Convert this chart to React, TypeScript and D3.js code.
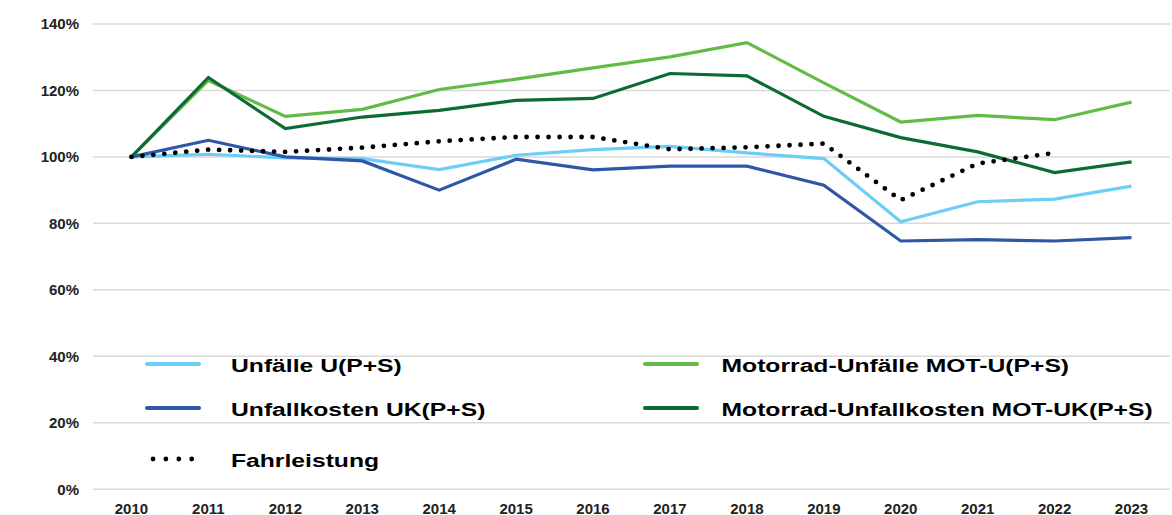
import React from "react";
import * as d3 from "d3";

const years = ["2010","2011","2012","2013","2014","2015","2016","2017","2018","2019","2020","2021","2022","2023"];
const yTicks = [0, 20, 40, 60, 80, 100, 120, 140];

const unfaelle = [100, 100.8, 99.7, 99.5, 96.2, 100.5, 102.2, 103.2, 101.2, 99.5, 80.5, 86.5, 87.3, 91.2];
const unfallkosten = [100, 105, 100, 98.8, 90, 99.3, 96.1, 97.2, 97.2, 91.5, 74.7, 75.1, 74.7, 75.7];
const motUnfaelle = [100, 123, 112.2, 114.3, 120.3, 123.4, 126.8, 130.1, 134.4, 122.3, 110.5, 112.5, 111.2, 116.5];
const motUnfallkosten = [100, 123.9, 108.5, 112, 114, 117, 117.6, 125.1, 124.4, 112.2, 105.8, 101.5, 95.3, 98.5];
const fahrleistung: (number | null)[] = [100, 102.2, 101.5, 102.8, 104.7, 106, 106, 102.3, 102.9, 104, 87, 98, 101.2, null];

const seriesNames = [
  "Unfälle U(P+S)",
  "Unfallkosten UK(P+S)",
  "Fahrleistung",
  "Motorrad-Unfälle MOT-U(P+S)",
  "Motorrad-Unfallkosten MOT-UK(P+S)",
];

const C_LB = "#6ccdf5";
const C_DB = "#2f57a8";
const C_LG = "#62bb46";
const C_DG = "#0c6b33";

export default function App() {
  const W = 1172, H = 515;
  const x = d3.scaleBand<string>().domain(years).range([93, 1170]).padding(0);
  const cx = (yr: string) => (x(yr) as number) + x.bandwidth() / 2;
  const y = d3.scaleLinear().domain([0, 140]).range([489.2, 24]);

  const lineGen = d3
    .line<number | null>()
    .defined((d) => d !== null)
    .x((_, i) => cx(years[i]))
    .y((d) => y(d as number));

  const solid = [
    { data: unfaelle, color: C_LB },
    { data: unfallkosten, color: C_DB },
    { data: motUnfaelle, color: C_LG },
    { data: motUnfallkosten, color: C_DG },
  ];

  const font = "'Liberation Sans', Arial, sans-serif";

  const legendLeft = [
    { name: seriesNames[0], color: C_LB, dotted: false, yy: 364 },
    { name: seriesNames[1], color: C_DB, dotted: false, yy: 408 },
    { name: seriesNames[2], color: "#000", dotted: true, yy: 459 },
  ];
  const legendRight = [
    { name: seriesNames[3], color: C_LG, dotted: false, yy: 364 },
    { name: seriesNames[4], color: C_DG, dotted: false, yy: 408 },
  ];

  const legendItem = (it: any, sx: number, tx: number, key: string) => (
    <g key={key}>
      {it.dotted ? (
        <line x1={sx + 6} x2={sx + 46} y1={it.yy} y2={it.yy} stroke="#000" strokeWidth={4.8}
          strokeLinecap="round" strokeDasharray="0 12.9" />
      ) : (
        <line x1={sx} x2={sx + 52} y1={it.yy} y2={it.yy} stroke={it.color} strokeWidth={4}
          strokeLinecap="round" />
      )}
      <text transform={`translate(${tx},${it.yy + 7.5}) scale(1.3,1)`} fontFamily={font}
        fontWeight="bold" fontSize={19} fill="#000">{it.name}</text>
    </g>
  );

  return (
    <svg width={W} height={H} style={{ position: "absolute", left: 0, top: 0, background: "#fff" }}>
      {yTicks.map((t) => (
        <g key={t}>
          <line x1={93} x2={1170} y1={y(t)} y2={y(t)} stroke="#d9d9d9" strokeWidth={1.5} />
          <text x={79} y={y(t) + 5.4} textAnchor="end" fontFamily={font} fontWeight="bold"
            fontSize={15} fill="#222">{t + "%"}</text>
        </g>
      ))}
      {years.map((yr) => (
        <text key={yr} x={cx(yr)} y={513.5} textAnchor="middle" fontFamily={font} fontWeight="bold"
          fontSize={15} fill="#222">{yr}</text>
      ))}
      {solid.map((s, i) => (
        <path key={i} d={lineGen(s.data) || ""} fill="none" stroke={s.color} strokeWidth={3.2} />
      ))}
      <path d={lineGen(fahrleistung) || ""} fill="none" stroke="#000" strokeWidth={4.8}
        strokeLinecap="round" strokeDasharray="0 11" />
      {legendLeft.map((it, i) => legendItem(it, 147, 231, "l" + i))}
      {legendRight.map((it, i) => legendItem(it, 645, 721.5, "r" + i))}
    </svg>
  );
}
